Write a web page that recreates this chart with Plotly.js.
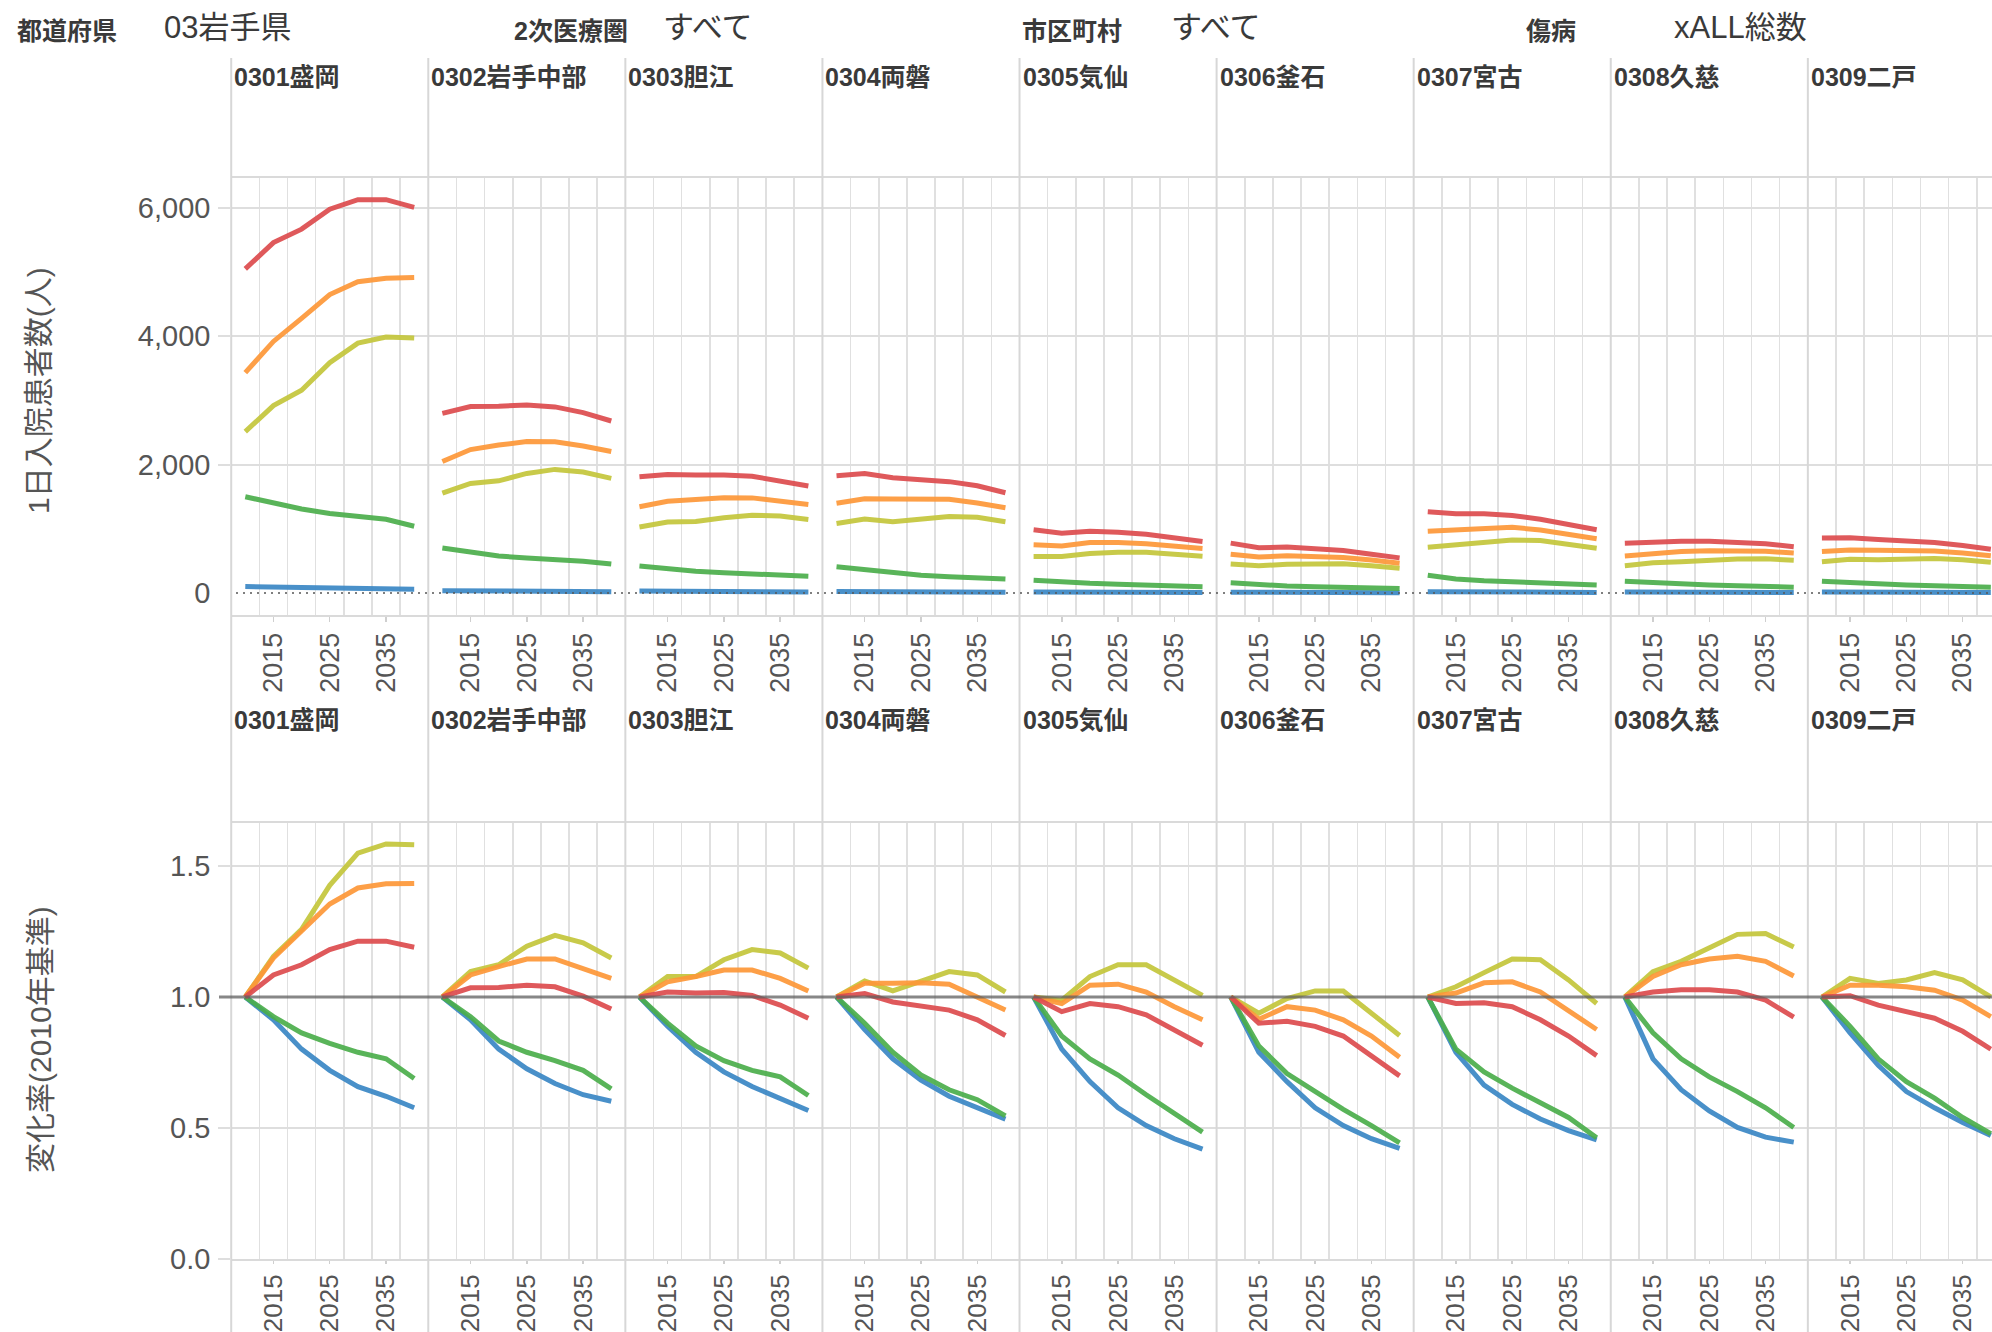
<!DOCTYPE html>
<html>
<head>
<meta charset="utf-8">
<script src="https://cdn.plot.ly/plotly-3.0.1.min.js"></script>
<style>
  html, body { margin: 0; padding: 0; background: #fff; overflow: hidden; }
  #chart { width: 1992px; height: 1332px; }
</style>
</head>
<body>
<div id="chart"></div>
<script>
// ---------------- DATA ----------------
const years = [2010, 2015, 2020, 2025, 2030, 2035, 2040];
const regions = ['0301盛岡', '0302岩手中部', '0303胆江', '0304両磐', '0305気仙',
                 '0306釜石', '0307宮古', '0308久慈', '0309二戸'];
const yearTicks = [2015, 2025, 2035];
const countTicks = [0, 2000, 4000, 6000];
const countTickText = ['0', '2,000', '4,000', '6,000'];
const ratioTicks = [0, 0.5, 1.0, 1.5];
const ratioTickText = ['0.0', '0.5', '1.0', '1.5'];

// 1日入院患者数(人), per region (9) x year (7)
const countRed = [
  [5050, 5460, 5670, 5980, 6130, 6130, 6010],
  [2800, 2905, 2910, 2930, 2900, 2810, 2680],
  [1810, 1848, 1838, 1840, 1820, 1752, 1667],
  [1827, 1862, 1797, 1770, 1735, 1670, 1562],
  [987, 933, 962, 948, 914, 860, 804],
  [777, 706, 715, 694, 662, 604, 547],
  [1265, 1236, 1236, 1208, 1150, 1072, 985],
  [777, 797, 806, 806, 795, 767, 721],
  [856, 861, 835, 813, 787, 740, 680]
];
const countOrange = [
  [3435, 3920, 4280, 4650, 4850, 4905, 4915],
  [2050, 2235, 2305, 2360, 2355, 2290, 2205],
  [1344, 1428, 1455, 1484, 1482, 1436, 1378],
  [1397, 1470, 1465, 1471, 1462, 1402, 1328],
  [751, 734, 787, 788, 766, 729, 692],
  [604, 560, 580, 576, 554, 515, 464],
  [961, 981, 1013, 1023, 983, 918, 846],
  [578, 621, 645, 659, 662, 649, 622],
  [646, 668, 665, 663, 654, 622, 582]
];
const countYellow = [
  [2515, 2920, 3160, 3590, 3893, 3990, 3973],
  [1555, 1708, 1748, 1863, 1926, 1884, 1786],
  [1029, 1106, 1114, 1173, 1211, 1200, 1144],
  [1082, 1152, 1112, 1150, 1192, 1180, 1110],
  [567, 568, 615, 636, 636, 612, 574],
  [452, 425, 448, 457, 457, 425, 385],
  [714, 746, 784, 824, 817, 764, 697],
  [425, 470, 485, 510, 531, 532, 510],
  [488, 524, 519, 522, 537, 517, 480]
];
const countGreen = [
  [1500, 1395, 1308, 1240, 1187, 1148, 1040],
  [700, 635, 575, 546, 522, 496, 450],
  [420, 375, 338, 315, 300, 288, 260],
  [410, 360, 308, 276, 252, 238, 218],
  [200, 167, 150, 136, 123, 111, 96],
  [158, 125, 109, 98, 87, 80, 69],
  [278, 219, 191, 172, 156, 140, 125],
  [184, 158, 139, 125, 114, 103, 91],
  [184, 160, 136, 123, 111, 100, 88]
];
const countBlue = [
  [100, 91, 80, 72, 66, 62, 58],
  [35, 32, 28, 25, 23, 22, 21],
  [30, 27, 24, 21, 20, 18, 17],
  [25, 22, 19, 17, 16, 14, 13],
  [15, 12, 10, 8.7, 7.6, 6.9, 6.3],
  [12, 9.5, 8.1, 6.9, 6.1, 5.5, 5.1],
  [20, 16, 13, 12, 11, 10, 9],
  [14, 11, 9, 8, 7, 6.5, 6.2],
  [15, 13, 11, 9.6, 8.7, 7.8, 7.1]
];

// 変化率(2010年基準), per region (9) x year (7)
const ratioRed = [
  [1, 1.084, 1.123, 1.181, 1.213, 1.213, 1.190],
  [1, 1.035, 1.036, 1.045, 1.039, 1.003, 0.954],
  [1, 1.019, 1.015, 1.017, 1.006, 0.969, 0.919],
  [1, 1.013, 0.981, 0.965, 0.950, 0.913, 0.853],
  [1, 0.944, 0.975, 0.963, 0.932, 0.876, 0.816],
  [1, 0.900, 0.907, 0.888, 0.851, 0.776, 0.699],
  [1, 0.975, 0.978, 0.963, 0.913, 0.851, 0.776],
  [1, 1.019, 1.028, 1.028, 1.019, 0.988, 0.923],
  [1, 1.005, 0.969, 0.944, 0.919, 0.869, 0.801]
];
const ratioOrange = [
  [1, 1.149, 1.252, 1.355, 1.416, 1.432, 1.433],
  [1, 1.084, 1.116, 1.145, 1.145, 1.110, 1.071],
  [1, 1.058, 1.078, 1.103, 1.103, 1.071, 1.023],
  [1, 1.052, 1.052, 1.054, 1.049, 1.000, 0.950],
  [1, 0.975, 1.045, 1.049, 1.019, 0.963, 0.913],
  [1, 0.915, 0.963, 0.950, 0.913, 0.851, 0.770],
  [1, 1.015, 1.054, 1.058, 1.019, 0.950, 0.876],
  [1, 1.078, 1.123, 1.145, 1.155, 1.136, 1.080],
  [1, 1.045, 1.045, 1.039, 1.026, 0.988, 0.925]
];
const ratioYellow = [
  [1, 1.155, 1.258, 1.426, 1.549, 1.584, 1.581],
  [1, 1.097, 1.123, 1.194, 1.235, 1.207, 1.149],
  [1, 1.078, 1.078, 1.142, 1.181, 1.168, 1.110],
  [1, 1.061, 1.023, 1.058, 1.097, 1.084, 1.019],
  [1, 0.988, 1.078, 1.123, 1.123, 1.065, 1.006],
  [1, 0.938, 0.994, 1.023, 1.023, 0.938, 0.853],
  [1, 1.039, 1.093, 1.145, 1.142, 1.065, 0.975],
  [1, 1.097, 1.136, 1.187, 1.239, 1.242, 1.191],
  [1, 1.071, 1.052, 1.065, 1.093, 1.065, 1.000]
];
const ratioGreen = [
  [1, 0.925, 0.863, 0.823, 0.789, 0.764, 0.689],
  [1, 0.925, 0.832, 0.789, 0.757, 0.720, 0.649],
  [1, 0.900, 0.813, 0.757, 0.720, 0.695, 0.624],
  [1, 0.900, 0.789, 0.702, 0.646, 0.608, 0.546],
  [1, 0.851, 0.764, 0.702, 0.627, 0.558, 0.484],
  [1, 0.813, 0.708, 0.639, 0.571, 0.509, 0.443],
  [1, 0.801, 0.714, 0.652, 0.596, 0.540, 0.463],
  [1, 0.863, 0.764, 0.695, 0.639, 0.577, 0.502],
  [1, 0.888, 0.764, 0.677, 0.614, 0.540, 0.478]
];
const ratioBlue = [
  [1, 0.913, 0.801, 0.720, 0.658, 0.621, 0.577],
  [1, 0.913, 0.801, 0.726, 0.670, 0.627, 0.602],
  [1, 0.888, 0.789, 0.714, 0.658, 0.614, 0.567],
  [1, 0.876, 0.764, 0.683, 0.621, 0.577, 0.534],
  [1, 0.801, 0.677, 0.577, 0.509, 0.459, 0.419],
  [1, 0.789, 0.677, 0.577, 0.509, 0.459, 0.422],
  [1, 0.789, 0.664, 0.590, 0.534, 0.490, 0.455],
  [1, 0.764, 0.646, 0.565, 0.502, 0.465, 0.446],
  [1, 0.863, 0.739, 0.639, 0.577, 0.521, 0.471]
];

// filter header texts
const filterLabels = ['都道府県', '2次医療圏', '市区町村', '傷病'];
const filterValues = ['03岩手県', 'すべて', 'すべて', 'xALL総数'];
const rowTitles = ['1日入院患者数(人)', '変化率(2010年基準)'];

// ---------------- STYLE / LAYOUT ----------------
const W = 1992, H = 1332;
const px = v => v / W;
const py = v => 1 - v / H;
const FONT = 'Liberation Sans, Arial, "Noto Sans CJK JP", sans-serif';
const colors = { blue: '#3a87c4', green: '#4bae4b', yellow: '#c3c63b', orange: '#fd9737', red: '#dc4b4d' };
const seriesOrder = [
  ['blue', countBlue, ratioBlue],
  ['green', countGreen, ratioGreen],
  ['yellow', countYellow, ratioYellow],
  ['orange', countOrange, ratioOrange],
  ['red', countRed, ratioRed]
];

const panelLeft0 = 231.2, panelW = 197.08;
const xRange = [2007.5, 2042.5];
const pxPerYear = panelW / (xRange[1] - xRange[0]);
const rowDomains = [[py(615), py(178)], [py(1259), py(823)]];
const yRanges = [[-343, 6467], [0, 1.664]];
const gridYears = [2012.5, 2017.5, 2022.5, 2027.5, 2032.5, 2037.5];

const traces = [];
const layout = {
  width: W, height: H,
  margin: { l: 0, r: 0, t: 0, b: 0 },
  paper_bgcolor: '#fff', plot_bgcolor: 'rgba(0,0,0,0)',
  showlegend: false,
  font: { family: FONT, color: '#555' },
  annotations: [], shapes: []
};

for (let r = 0; r < 2; r++) {
  for (let c = 0; c < regions.length; c++) {
    const n = r * regions.length + c + 1;
    const sfx = n === 1 ? '' : String(n);
    const left = panelLeft0 + panelW * c;
    const right = Math.min(left + panelW, W);
    const xr = [xRange[0], xRange[0] + (right - left) / pxPerYear];

    layout['xaxis' + sfx] = {
      domain: [px(left), px(right)], range: xr, anchor: 'y' + sfx,
      tickmode: 'array', tickvals: yearTicks, ticktext: yearTicks.map(String),
      tickangle: -90, ticks: 'outside', ticklen: r === 0 ? 5 : 3, tickcolor: '#cfcfcf', tickwidth: 1.5,
      tickfont: { size: r === 0 ? 27 : 26, color: '#555', family: FONT },
      showgrid: false, zeroline: false,
      showline: true, mirror: true, linecolor: '#dadada', linewidth: 2,
      minor: { tickmode: 'array', tickvals: gridYears, showgrid: true, gridcolor: '#e0e0e0', gridwidth: 1.6, ticks: '' },
      fixedrange: true
    };
    const first = c === 0;
    layout['yaxis' + sfx] = {
      domain: rowDomains[r], range: yRanges[r], anchor: 'x' + sfx,
      tickmode: 'array',
      tickvals: r === 0 ? countTicks : ratioTicks,
      ticktext: r === 0 ? countTickText : ratioTickText,
      showticklabels: first,
      ticks: first ? 'outside' : '', ticklen: 14, tickcolor: 'rgba(0,0,0,0)',
      tickfont: { size: 29, color: '#555', family: FONT },
      showgrid: false, zeroline: false, showline: false,
      minor: {
        tickmode: 'array',
        tickvals: r === 0 ? [2000, 4000, 6000] : [0, 0.5, 1.5],
        showgrid: true, gridcolor: '#dedede', gridwidth: 2,
        ticks: first ? 'outside' : '', ticklen: 12, tickcolor: '#dedede', tickwidth: 2
      },
      fixedrange: true
    };

    for (const [name, cnt, rat] of seriesOrder) {
      traces.push({
        type: 'scatter', mode: 'lines',
        x: years, y: r === 0 ? cnt[c] : rat[c],
        xaxis: 'x' + sfx, yaxis: 'y' + sfx,
        line: { color: colors[name], width: 5, shape: 'linear' },
        opacity: 0.92, hoverinfo: 'skip', cliponaxis: true
      });
    }

    // panel header label
    layout.annotations.push({
      xref: 'paper', yref: 'paper', x: px(left + 1), y: py(r === 0 ? 77 : 720),
      xanchor: 'left', yanchor: 'middle', showarrow: false,
      text: '<b>' + regions[c] + '</b>',
      font: { size: 25, color: '#3a3a3a', family: FONT }
    });
  }
}

// vertical panel dividers
for (let c = 0; c < regions.length; c++) {
  const x = panelLeft0 + panelW * c;
  layout.shapes.push({
    type: 'line', xref: 'paper', yref: 'paper', layer: 'above',
    x0: px(x), x1: px(x), y0: py(58), y1: py(H),
    line: { color: '#d7d7d7', width: 2 }
  });
}
// dotted zero line (upper row)
layout.shapes.push({
  type: 'line', xref: 'paper', yref: 'y', layer: 'above',
  x0: px(236), x1: 1, y0: 0, y1: 0,
  line: { color: '#555', width: 1.6, dash: '2px,5px' }
});
// reference line at 1.0 (lower row)
layout.shapes.push({
  type: 'line', xref: 'paper', yref: 'y10', layer: 'above',
  x0: px(219), x1: 1, y0: 1, y1: 1,
  line: { color: 'rgba(95,95,95,0.75)', width: 3 }
});

// filter header
const filterLabelX = [15, 512, 1020, 1524];
const filterValueX = [162, 661, 1169, 1672];
filterLabels.forEach((t, i) => {
  layout.annotations.push({
    xref: 'paper', yref: 'paper', x: px(filterLabelX[i]), y: py(31),
    xanchor: 'left', yanchor: 'middle', showarrow: false,
    text: '<b>' + t + '</b>', font: { size: 25, color: '#3a3a3a', family: FONT }
  });
  layout.annotations.push({
    xref: 'paper', yref: 'paper', x: px(filterValueX[i]), y: py(27),
    xanchor: 'left', yanchor: 'middle', showarrow: false,
    text: filterValues[i], font: { size: 31, color: '#3a3a3a', family: FONT }
  });
});

// row (y axis) titles
[[38, 391], [40, 1040]].forEach(([x, y], i) => {
  layout.annotations.push({
    xref: 'paper', yref: 'paper', x: px(x), y: py(y),
    xanchor: 'center', yanchor: 'middle', showarrow: false, textangle: -90,
    text: rowTitles[i], font: { size: 30, color: '#555', family: FONT }
  });
});

Plotly.newPlot('chart', traces, layout, { staticPlot: true, displayModeBar: false });
</script>
</body>
</html>
